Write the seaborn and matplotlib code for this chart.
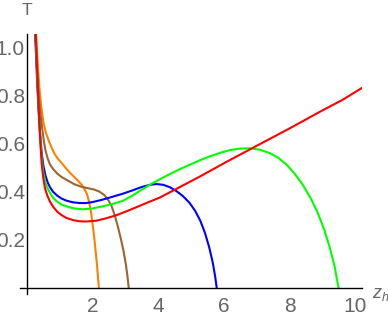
import matplotlib
matplotlib.use("Agg")
import matplotlib.pyplot as plt
from matplotlib.ticker import FixedLocator
import seaborn as sns
import pandas as pd

# readings of T(z_h) for each curve
z_red = [0.21, 0.25, 0.29, 0.33, 0.37, 0.41, 0.45, 0.50, 0.55, 0.62, 0.70, 0.80, 0.92, 1.05,
         1.20, 1.40, 1.60, 1.80, 2.10, 2.40, 2.74, 3.13, 3.60, 4.05, 4.44, 5.26, 6.07, 6.88,
         8.00, 9.00, 9.60, 10.22]
t_red = [1.25, 1.12, 0.98, 0.84, 0.71, 0.60, 0.515, 0.455, 0.415, 0.385, 0.360, 0.338, 0.318,
         0.304, 0.292, 0.283, 0.278, 0.277, 0.280, 0.290, 0.304, 0.325, 0.352, 0.377, 0.405,
         0.464, 0.525, 0.584, 0.665, 0.740, 0.783, 0.835]

z_green = [0.20, 0.24, 0.28, 0.32, 0.36, 0.40, 0.45, 0.50, 0.56, 0.63, 0.70, 0.80, 0.92, 1.05,
           1.25, 1.46, 1.70, 1.98, 2.30, 2.60, 2.90, 3.20, 3.50, 3.80, 4.10, 4.40, 4.70, 5.00,
           5.30, 5.60, 5.90, 6.20, 6.50, 6.80, 7.10, 7.40, 7.65, 7.90, 8.15, 8.40, 8.65, 8.85,
           9.05, 9.22, 9.37, 9.49]
t_green = [1.25, 1.12, 0.99, 0.86, 0.74, 0.63, 0.54, 0.48, 0.44, 0.415, 0.397, 0.375, 0.360,
           0.348, 0.338, 0.331, 0.328, 0.331, 0.340, 0.350, 0.362, 0.384, 0.410, 0.435, 0.457,
           0.478, 0.498, 0.516, 0.534, 0.550, 0.564, 0.575, 0.581, 0.582, 0.576, 0.562, 0.543,
           0.515, 0.477, 0.430, 0.372, 0.315, 0.245, 0.170, 0.090, 0.0]

z_blue = [0.19, 0.23, 0.27, 0.31, 0.35, 0.40, 0.45, 0.50, 0.56, 0.63, 0.70, 0.80, 0.92, 1.05,
          1.20, 1.40, 1.60, 1.80, 2.00, 2.30, 2.60, 2.90, 3.20, 3.50, 3.75, 3.95, 4.15, 4.35,
          4.55, 4.75, 4.95, 5.12, 5.28, 5.42, 5.55, 5.66, 5.73, 5.78]
t_blue = [1.25, 1.12, 0.99, 0.86, 0.75, 0.64, 0.56, 0.51, 0.47, 0.44, 0.42, 0.40, 0.385, 0.373,
          0.364, 0.357, 0.354, 0.354, 0.358, 0.368, 0.380, 0.392, 0.406, 0.421, 0.430, 0.433,
          0.430, 0.420, 0.404, 0.383, 0.355, 0.322, 0.280, 0.230, 0.170, 0.105, 0.050, 0.0]

z_brown = [0.20, 0.24, 0.28, 0.32, 0.36, 0.40, 0.45, 0.50, 0.56, 0.63, 0.70, 0.80, 0.92, 1.06,
           1.25, 1.45, 1.65, 1.85, 2.05, 2.20, 2.35, 2.47, 2.58, 2.68, 2.77, 2.86, 2.94, 3.01,
           3.06, 3.10]
t_brown = [1.25, 1.12, 0.99, 0.88, 0.80, 0.74, 0.68, 0.625, 0.575, 0.54, 0.515, 0.495, 0.477,
           0.462, 0.447, 0.432, 0.422, 0.416, 0.410, 0.402, 0.388, 0.368, 0.340, 0.300, 0.255,
           0.205, 0.155, 0.100, 0.050, 0.0]

z_orange = [0.22, 0.26, 0.30, 0.34, 0.38, 0.43, 0.50, 0.58, 0.66, 0.75, 0.85, 0.95, 1.06, 1.18,
            1.31, 1.46, 1.58, 1.68, 1.76, 1.83, 1.89, 1.95, 2.00, 2.05, 2.09, 2.13, 2.16, 2.19]
t_orange = [1.25, 1.12, 1.00, 0.91, 0.83, 0.76, 0.69, 0.645, 0.615, 0.585, 0.557, 0.537, 0.52,
            0.50, 0.48, 0.46, 0.443, 0.428, 0.41, 0.39, 0.36, 0.315, 0.265, 0.21, 0.155, 0.10,
            0.05, 0.0]

names = ["red", "green", "blue", "brown", "orange"]
colors = {"red": "#ff0000", "green": "#00ff00", "blue": "#0000ff",
          "brown": "#996633", "orange": "#ff8000"}

frames = []
for name, zs, ts in [("red", z_red, t_red), ("green", z_green, t_green), ("blue", z_blue, t_blue),
                     ("brown", z_brown, t_brown), ("orange", z_orange, t_orange)]:
    frames.append(pd.DataFrame({"z_h": zs, "T": ts, "curve": name}))
df = pd.concat(frames, ignore_index=True)

sns.set_style("white")
plt.rcParams["font.family"] = ["Liberation Sans Narrow", "Liberation Sans", "DejaVu Sans"]
plt.rcParams["mathtext.fontset"] = "custom"
plt.rcParams["mathtext.it"] = "Liberation Sans:italic"
plt.rcParams["mathtext.rm"] = "Liberation Sans"

fig = plt.figure(figsize=(3.88, 3.19), dpi=100)
ax = fig.add_axes([0.0526, 0.0784, 0.8800, 0.8163])

sns.lineplot(data=df, x="z_h", y="T", hue="curve", hue_order=names[::-1], palette=colors,
             sort=False, estimator=None, linewidth=1.5, legend=False, ax=ax)

ax.set_xlim(-0.2, 10.2)
ax.set_ylim(-0.025, 1.06)

for s in ["top", "right"]:
    ax.spines[s].set_visible(False)
ax.spines["left"].set_position(("data", 0))
ax.spines["bottom"].set_position(("data", 0))
for s in ["left", "bottom"]:
    ax.spines[s].set_color("black")
    ax.spines[s].set_linewidth(1.0)

ax.xaxis.set_major_locator(FixedLocator([2, 4, 6, 8, 10]))
ax.xaxis.set_minor_locator(FixedLocator([x * 0.5 for x in range(1, 21) if x % 4 != 0]))
ax.yaxis.set_major_locator(FixedLocator([0.2, 0.4, 0.6, 0.8, 1.0]))
ax.yaxis.set_minor_locator(FixedLocator([y * 0.05 for y in range(1, 21) if y % 4 != 0]))
ax.tick_params(which="both", direction="in", color="#555555", labelcolor="#666666")
ax.tick_params(which="major", length=4, width=0.8, labelsize=15)
ax.tick_params(which="minor", length=2, width=0.6)
ax.tick_params(axis="x", pad=6.5)
ax.tick_params(axis="y", pad=1.5)
ax.set_xticklabels(["2", "4", "6", "8", "10"])
ax.set_yticklabels(["0.2", "0.4", "0.6", "0.8", "1.0"])

ax.set_xlabel("")
ax.set_ylabel("")
ax.text(0, 1.155, "T", transform=ax.transData, ha="center", va="center",
        fontsize=12.5, color="#666666", clip_on=False,
        fontfamily=["Liberation Sans", "DejaVu Sans"])
ax.text(10.5, -0.042, r"$z_h$", transform=ax.transData, ha="left", va="baseline",
        fontsize=13, color="#666666", clip_on=False)

fig.savefig("out.png", dpi=100)
